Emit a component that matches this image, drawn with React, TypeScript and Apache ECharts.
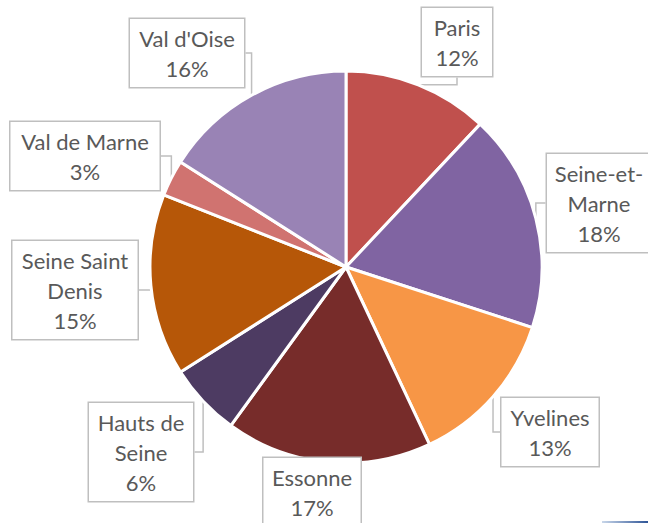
import React, { useEffect, useRef } from "react";
import * as echarts from "echarts";

const categories = ["Paris", "Seine-et-Marne", "Yvelines", "Essonne", "Hauts de Seine", "Seine Saint Denis", "Val de Marne", "Val d'Oise"];
const values = [12, 18, 13, 17, 6, 15, 3, 16];
const labelNames = ["Paris", "Seine-et-\nMarne", "Yvelines", "Essonne", "Hauts de\nSeine", "Seine Saint\nDenis", "Val de Marne", "Val d'Oise"];
const colors = ["#C0504D", "#8064A2", "#F79646", "#772C2A", "#4D3B62", "#B65708", "#D07370", "#9983B5"];
// label box centres and widths (layout)
const labelPos = [
  [457, 42], [599, 203], [550, 432], [312, 492], [141, 452], [75, 290], [85, 156], [187, 53],
];
const labelWidths = [50, 84, 77, 77, 84, 105, 129, 94];

export default function App() {
  const ref = useRef<HTMLDivElement>(null);
  useEffect(() => {
    const chart = echarts.init(ref.current!, null, { renderer: "svg" });
    chart.setOption({
      animation: false,
      backgroundColor: "#ffffff",
      series: [
        {
          type: "pie",
          center: [346, 267],
          radius: 196,
          startAngle: 90,
          clockwise: true,
          percentPrecision: 0,
          itemStyle: { borderColor: "#ffffff", borderWidth: 3 },
          data: categories.map((c, i) => ({
            name: c,
            value: values[i],
            itemStyle: { color: colors[i] },
            label: { width: labelWidths[i] },
          })),
          label: {
            show: true,
            formatter: (p: any) => labelNames[p.dataIndex] + "\n" + p.percent + "%",
            color: "#595959",
            fontFamily: "Lato",
            fontSize: 22,
            lineHeight: 30,
            align: "center",
            overflow: "none",
            backgroundColor: "#ffffff",
            borderColor: "#BFBFBF",
            borderWidth: 1.5,
            padding: [4, 10, 4, 10],
          },
          labelLine: {
            show: true,
            lineStyle: { color: "#BFBFBF", width: 1.5 },
          },
          labelLayout: (p: any) => ({
            x: labelPos[p.dataIndex][0],
            y: labelPos[p.dataIndex][1],
            align: "center",
            verticalAlign: "middle",
            hideOverlap: false,
          }),
        },
      ],
      graphic: [
        {
          type: "rect",
          shape: { x: 602, y: 521, width: 46, height: 2 },
          style: {
            fill: new echarts.graphic.LinearGradient(0, 0, 1, 0, [
              { offset: 0, color: "#C9D7EA" },
              { offset: 1, color: "#2F5597" },
            ]),
          },
        },
      ],
    });
    return () => chart.dispose();
  }, []);
  return <div ref={ref} style={{ position: "fixed", left: 0, top: 0, width: 648, height: 523 }} />;
}
